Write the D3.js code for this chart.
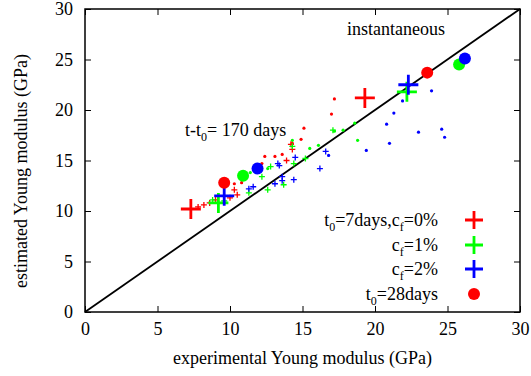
<!DOCTYPE html>
<html>
<head>
<meta charset="utf-8">
<script src="https://cdn.jsdelivr.net/npm/d3@7"></script>
<style>
  body { margin: 0; background: #fff; }
  text { font-family: "Liberation Serif", "DejaVu Serif", serif; }
</style>
</head>
<body>
<div id="chart"></div>
<script>
// axis ticks
var xTicks = [0, 5, 10, 15, 20, 25, 30]
var yTicks = [0, 5, 10, 15, 20, 25, 30]

// big markers: [170 days end, instantaneous end]
var bigRedCross   = [[7.3, 10.2], [19.3, 21.2]]
var bigGreenCross = [[9.2, 10.8], [22.2, 21.8]]
var bigBlueCross  = [[9.6, 11.5], [22.3, 22.5]]
var bigRedDot     = [[9.6, 12.8], [23.6, 23.7]]
var bigGreenDot   = [[10.9, 13.5], [25.8, 24.5]]
var bigBlueDot    = [[11.9, 14.2], [26.2, 25.1]]

// intermediate times, t0 = 7 days (small crosses)
var redCross = [[7.8, 10.4], [8.2, 10.6], [8.6, 10.8], [9.0, 11.1], [10.0, 11.3], [10.5, 11.6],
                [10.3, 12.1], [13.9, 15.0], [14.2, 16.6], [14.3, 16.1]]
var greenCross = [[8.8, 11.1], [9.6, 11.0], [11.3, 11.8], [12.2, 13.4], [12.6, 12.1], [12.8, 14.4],
                  [13.7, 12.6], [14.3, 16.4], [14.4, 14.7], [15.2, 15.2], [17.1, 18.0]]
var blueCross = [[11.3, 12.2], [11.6, 12.4], [13.1, 12.7], [13.3, 14.7], [13.4, 14.5], [13.6, 13.4],
                 [13.6, 13.0], [14.4, 13.1], [14.5, 15.3], [16.2, 14.2], [16.6, 15.9]]

// intermediate times, t0 = 28 days (small dots)
var redDot = [[10.3, 12.7], [10.8, 12.8], [12.2, 14.7], [12.4, 15.4], [13.1, 15.4], [13.6, 15.6],
              [14.3, 16.7], [14.9, 17.1], [15.1, 18.2], [17.0, 19.6], [17.2, 21.1]]
var greenDot = [[11.4, 13.8], [12.6, 14.2], [14.3, 17.0], [15.5, 16.2], [16.1, 16.5], [17.8, 18.0],
                [18.6, 18.7], [18.8, 17.0], [17.2, 17.9]]
var blueDot = [[16.8, 15.5], [19.4, 16.0], [21.0, 16.7], [20.8, 18.6], [21.3, 19.7], [21.9, 20.9],
               [23.0, 17.8], [23.9, 21.9], [24.6, 18.1], [24.8, 17.3]]

var width = 531, height = 376
var margin = {left: 85, right: 11, top: 9, bottom: 64}
var fs = 18

var svg = d3.select("#chart").append("svg")
  .attr("width", width)
  .attr("height", height)

var x = d3.scaleLinear().domain([0, 30]).range([margin.left, width - margin.right])
var y = d3.scaleLinear().domain([0, 30]).range([height - margin.bottom, margin.top])

// frame
svg.append("rect")
  .attr("x", x(0)).attr("y", y(30))
  .attr("width", x(30) - x(0)).attr("height", y(0) - y(30))
  .attr("fill", "none").attr("stroke", "black").attr("stroke-width", 1.5)

// axes with inward ticks
function styleAxis(g) {
  g.select(".domain").remove()
  g.selectAll(".tick line").attr("stroke", "black").attr("stroke-width", 1)
  g.selectAll(".tick text").attr("font-family", "Liberation Serif").attr("font-size", fs).attr("fill", "black")
}
svg.append("g").attr("transform", "translate(0," + y(0) + ")")
  .call(d3.axisBottom(x).tickValues(xTicks).tickSizeInner(-6).tickPadding(10))
  .call(styleAxis)
svg.append("g").attr("transform", "translate(" + x(0) + ",0)")
  .call(d3.axisLeft(y).tickValues(yTicks).tickSizeInner(-6).tickPadding(12))
  .call(styleAxis)
svg.append("g").attr("transform", "translate(0," + y(30) + ")")
  .call(d3.axisTop(x).tickValues(xTicks).tickSizeInner(-6).tickFormat(""))
  .call(styleAxis)
svg.append("g").attr("transform", "translate(" + x(30) + ",0)")
  .call(d3.axisRight(y).tickValues(yTicks).tickSizeInner(-6).tickFormat(""))
  .call(styleAxis)

// y = x line
svg.append("line")
  .attr("x1", x(0)).attr("y1", y(0)).attr("x2", x(30)).attr("y2", y(30))
  .attr("stroke", "black").attr("stroke-width", 1.8)

var plot = svg.append("g")

function crosses(data, color, size, lw) {
  plot.selectAll(null).data(data).enter().append("path")
    .attr("d", function(d) {
      var cx = x(d[0]), cy = y(d[1])
      return "M" + (cx - size) + "," + cy + "H" + (cx + size) + "M" + cx + "," + (cy - size) + "V" + (cy + size)
    })
    .attr("stroke", color).attr("stroke-width", lw).attr("fill", "none")
}
function dots(data, color, r) {
  plot.selectAll(null).data(data).enter().append("circle")
    .attr("cx", function(d) { return x(d[0]) })
    .attr("cy", function(d) { return y(d[1]) })
    .attr("r", r).attr("fill", color)
}

var red = "#ff0000", green = "#00ff00", blue = "#0000ff"

dots(redDot, red, 1.6)
dots(greenDot, green, 1.6)
dots(blueDot, blue, 1.6)
crosses(redCross, red, 3, 1.3)
crosses(greenCross, green, 3, 1.3)
crosses(blueCross, blue, 3, 1.3)

crosses(bigRedCross, red, 10, 2.8)
crosses(bigGreenCross, green, 10, 2.8)
crosses(bigBlueCross, blue, 10, 2.8)
dots(bigRedDot, red, 6)
dots(bigGreenDot, green, 6)
dots(bigBlueDot, blue, 6)

// annotations
svg.append("text").attr("x", 347).attr("y", 35)
  .attr("font-size", fs).text("instantaneous")
var ann = svg.append("text").attr("x", 185).attr("y", 136).attr("font-size", fs)
ann.append("tspan").text("t-t")
ann.append("tspan").attr("dy", 5).attr("font-size", 12).text("0")
ann.append("tspan").attr("dy", -5).text("= 170 days")

// legend
var legY = [220, 245, 269, 294]
var leg = svg.append("g")
function legText(i, parts) {
  var t = leg.append("text").attr("x", 438).attr("y", legY[i] + 6)
    .attr("text-anchor", "end").attr("font-size", fs)
  parts.forEach(function(p) {
    var s = t.append("tspan").text(p[0])
    if (p[1] == "sub") s.attr("dy", 5).attr("font-size", 12)
    if (p[1] == "up") s.attr("dy", -5)
  })
}
legText(0, [["t"], ["0", "sub"], ["=7days,c", "up"], ["f", "sub"], ["=0%", "up"]])
legText(1, [["c"], ["f", "sub"], ["=1%", "up"]])
legText(2, [["c"], ["f", "sub"], ["=2%", "up"]])
legText(3, [["t"], ["0", "sub"], ["=28days", "up"]])

var legColors = [red, green, blue]
legColors.forEach(function(c, i) {
  var cx = 474, cy = legY[i]
  leg.append("path")
    .attr("d", "M" + (cx - 9) + "," + cy + "H" + (cx + 9) + "M" + cx + "," + (cy - 9) + "V" + (cy + 9))
    .attr("stroke", c).attr("stroke-width", 2.8)
})
leg.append("circle").attr("cx", 474).attr("cy", legY[3]).attr("r", 6).attr("fill", red)

// axis titles
svg.append("text").attr("x", x(15)).attr("y", 364)
  .attr("text-anchor", "middle").attr("font-size", fs)
  .text("experimental Young modulus (GPa)")
svg.append("text")
  .attr("transform", "translate(27,171) rotate(-90)")
  .attr("text-anchor", "middle").attr("font-size", fs)
  .text("estimated Young modulus (GPa)")
</script>
</body>
</html>
